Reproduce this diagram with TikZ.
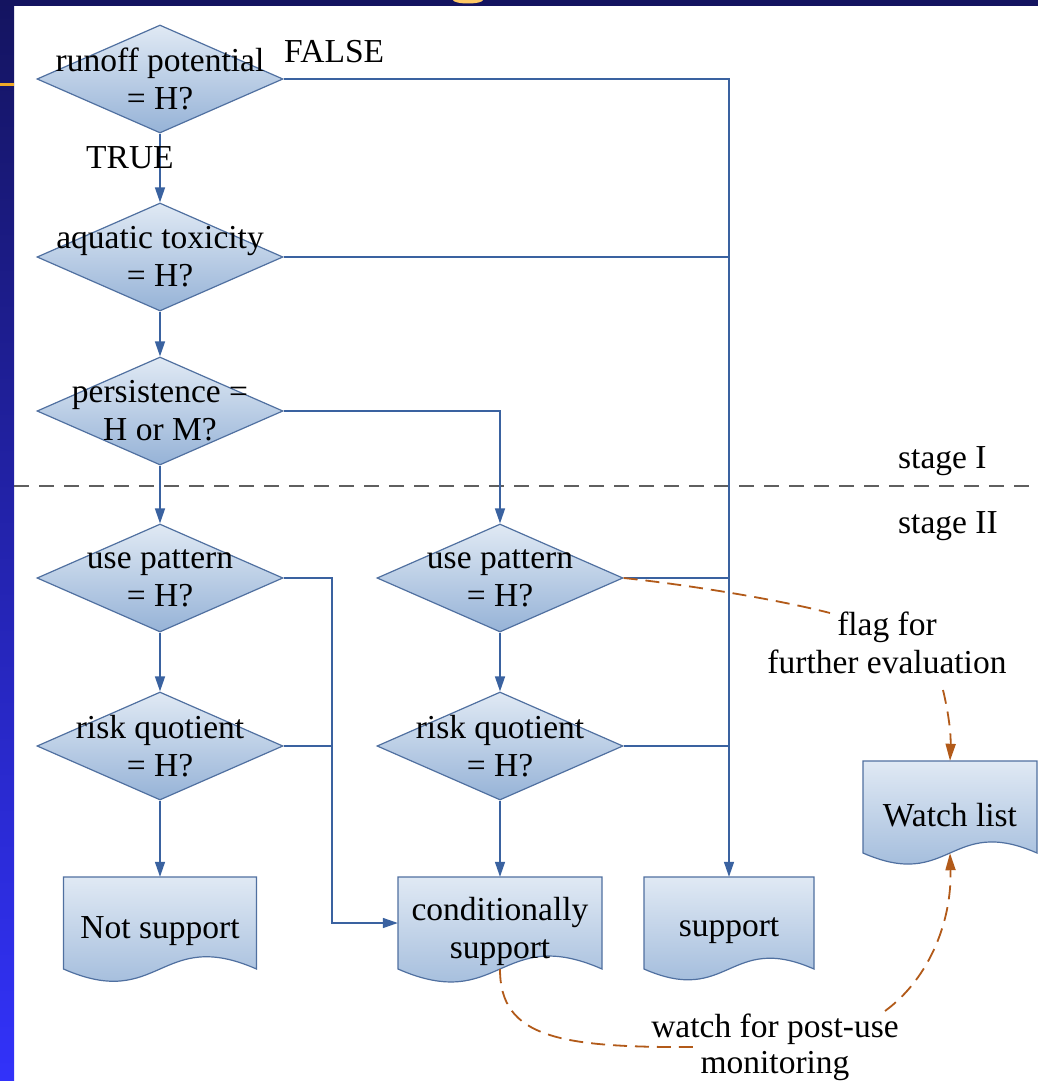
\documentclass[tikz,border=0pt]{standalone}
\usepackage{fontspec}
\setmainfont{Liberation Serif}
\usetikzlibrary{shapes.geometric,arrows.meta,calc}

\definecolor{bgnavy}{RGB}{20,20,96}
\definecolor{bgmid}{RGB}{36,36,190}
\definecolor{bgblue}{RGB}{50,50,250}
\definecolor{accent}{RGB}{240,170,40}
\definecolor{titleyellow}{RGB}{255,200,100}
\definecolor{shapetop}{RGB}{224,233,244}
\definecolor{shapebot}{RGB}{150,179,215}
\definecolor{shapeline}{RGB}{80,112,160}
\definecolor{conn}{RGB}{58,98,160}
\definecolor{stageline}{RGB}{95,95,95}
\definecolor{flagline}{RGB}{178,90,25}

\newcommand\flowdoc[5]{%
  \path[docshape] ({#2-#4/2},#3) -- ({#2+#4/2},#3) -- ({#2+#4/2},{#3+92})
    .. controls (#2,{#3+92-0.22*#4}) and (#2,{#3+92+0.22*#4}) .. ({#2-#4/2},{#3+92}) -- cycle;
  \node[docbox, minimum width=#4pt] (#1) at (#2,{#3+46}) {};
  \node[qtext, yshift=-8pt] (#1t) at (#1.center) {#5};
}

\begin{document}
\begin{tikzpicture}[x=1pt,y=-1pt,
  font=\fontsize{33.5}{38}\selectfont,
  diam/.style={diamond, draw=shapeline, line width=1.2pt, top color=shapetop, bottom color=shapebot,
    minimum width=246pt, minimum height=108pt, inner sep=0pt},
  qtext/.style={align=center, inner sep=0pt},
  docshape/.style={draw=shapeline, line width=1.2pt, top color=shapetop, bottom color=shapebot},
  docbox/.style={rectangle, minimum height=92pt, inner sep=0pt},
  flow/.style={draw=conn, line width=1.5pt, -{Triangle[length=15pt,width=10pt]}},
  plain/.style={draw=conn, line width=1.5pt},
  notedash/.style={draw=flagline, line width=1.8pt, dash pattern=on 14pt off 8pt},
  note/.style={notedash, -{Triangle[length=17pt,width=10pt]}},
  notetext/.style={align=center, inner sep=0pt},
  tag/.style={inner sep=0pt, anchor=base west},
  stagedash/.style={draw=stageline, line width=1.6pt, dash pattern=on 15pt off 10pt}
]
% background
\useasboundingbox (0,0) rectangle (1038,1081);
\fill[white] (0,0) rectangle (1038,1081);
\shade[top color=bgnavy, middle color=bgmid, bottom color=bgblue] (0,0) rectangle (14,1081);
\fill[bgnavy] (0,0) rectangle (1038,6);
\fill[titleyellow] (468,0) ellipse (15 and 3.5);
\fill[accent] (0,83) rectangle (14,85.5);

% stage divider
\draw[stagedash] (14,486) -- (1038,486);
\node[tag] (st1) at (898,468) {stage I};
\node[tag] (st2) at (898,533) {stage II};

% decision diamonds
\node[diam] (d1) at (160,79) {};
\node[diam] (d2) at (160,257) {};
\node[diam] (d3) at (160,411) {};
\node[diam] (u1) at (160,578) {};
\node[diam] (r1) at (160,746) {};
\node[diam] (u2) at (500,578) {};
\node[diam] (r2) at (500,746) {};

% documents
\flowdoc{ns}{160}{877}{193}{Not support}
\flowdoc{cs}{500}{877}{204}{conditionally\\support}
\flowdoc{sup}{729}{877}{170}{support}
\flowdoc{wl}{950}{761}{174}{Watch list}

% connectors
\draw[flow] (d1.south) -- (d2.north);
\draw[flow] (d2.south) -- (d3.north);
\draw[flow] (d3.south) -- (u1.north);
\draw[flow] (d3.east) -| (u2.north);
\draw[flow] (u1.south) -- (r1.north);
\draw[flow] (u2.south) -- (r2.north);
\draw[flow] (r1.south) -- (ns.north);
\draw[flow] (r2.south) -- (cs.north);
\draw[flow] (d1.east) -| (sup.north);
\draw[plain] (d2.east) -- (d2.east -| sup.north);
\draw[plain] (u2.east) -- (u2.east -| sup.north);
\draw[plain] (r2.east) -- (r2.east -| sup.north);
\coordinate (bus) at (332,578);
\draw[flow] (u1.east) -- (bus) |- (cs.west);
\draw[plain] (r1.east) -- (r1.east -| bus);

% dashed notes
\node[notetext] (flag) at (887,643) {flag for\\further evaluation};
\node[notetext, font=\fontsize{33.5}{36}\selectfont] (watch) at (775,1047) {watch for post-use\\monitoring};
\coordinate (fleft) at (830,613);
\coordinate (fright) at (943,690);
\coordinate (wleft) at (700,1047);
\coordinate (wright) at (885,1011);
\draw[notedash] (u2.east) .. controls (690,585) and (780,600) .. (fleft);
\draw[note] (fright) .. controls (949,715) and (951,735) .. (wl.north);
\draw[notedash] (cs.south) .. controls (500,1038) and (560,1048) .. (wleft);
\draw[note] (wright) .. controls (930,978) and (952,920) .. (wl.south);

% diamond texts
\node[qtext] (d1t) at (d1) {runoff potential\\= H?};
\node[qtext] (d2t) at (d2) {aquatic toxicity\\= H?};
\node[qtext] (d3t) at (d3) {persistence =\\H or M?};
\node[qtext] (u1t) at (u1) {use pattern\\= H?};
\node[qtext] (r1t) at (r1) {risk quotient\\= H?};
\node[qtext] (u2t) at (u2) {use pattern\\= H?};
\node[qtext] (r2t) at (r2) {risk quotient\\= H?};

% branch labels
\node[tag] (fl) at (284,63) {FALSE};
\node[tag] (tr) at (86,168) {TRUE};
\end{tikzpicture}
\end{document}
